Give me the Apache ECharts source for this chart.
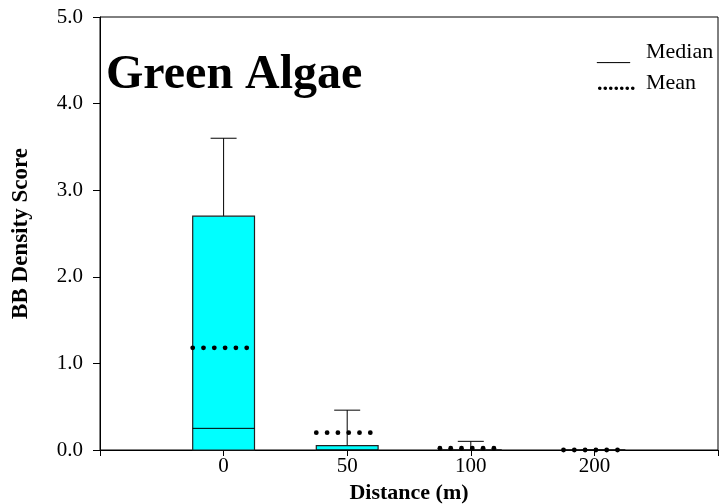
<!DOCTYPE html>
<html><head><meta charset="utf-8">
<script src="https://cdn.jsdelivr.net/npm/echarts@6/dist/echarts.min.js"></script>
<style>html,body{margin:0;padding:0;background:#fff}#c{width:720px;height:504px}</style>
</head><body><div id="c"></div>
<script>
var categories = ['0', '50', '100', '200'];
var q1Values = [0, 0, 0, 0];
var medianValues = [0.25, 0, 0, 0];
var q3Values = [2.7, 0.05, 0, 0];
var upperValues = [3.6, 0.46, 0.1, 0];
var meanValues = [1.18, 0.2, 0.02, 0];
var yTicks = [0, 1, 2, 3, 4, 5];

var xLabels = [''].concat(categories, ['']);
var boxData = categories.map(function (c, i) {
  return [i + 1, q1Values[i], medianValues[i], q3Values[i], upperValues[i], meanValues[i]];
});
var FONT = '"Liberation Serif", "Times New Roman", serif';

function txt(x, y, text, font) {
  return { type: 'text', x: x, y: y, silent: true,
    style: { text: text, font: font, fill: '#000', textAlign: 'left', textVerticalAlign: 'middle', align: 'left', verticalAlign: 'middle' } };
}

var chart = echarts.init(document.getElementById('c'), null, { renderer: 'canvas' });
chart.setOption({
  animation: false,
  backgroundColor: '#fff',
  grid: { left: 100, right: 2, top: 17, bottom: 54, show: true, borderColor: '#000', borderWidth: 1,
    backgroundColor: 'transparent', containLabel: false, outerBoundsMode: 'none' },
  graphic: [
    txt(106, 76, 'Green Algae', 'bold 48px ' + FONT),
    txt(597, 54, '___', '22px ' + FONT),
    txt(646, 52, 'Median', '22px ' + FONT),
    txt(597, 84, '.......', 'bold 22px ' + FONT),
    txt(646, 83, 'Mean', '22px ' + FONT)
  ],
  xAxis: {
    type: 'category', data: xLabels, boundaryGap: false,
    name: 'Distance (m)', nameLocation: 'middle', nameGap: 28,
    nameTextStyle: { fontFamily: FONT, fontSize: 22, fontWeight: 'bold', color: '#000' },
    axisLine: { lineStyle: { color: '#000', width: 1 } },
    axisTick: { show: true, length: 6, alignWithLabel: true, interval: 0, lineStyle: { color: '#000' } },
    axisLabel: { interval: 0, fontFamily: FONT, fontSize: 21, color: '#000', margin: 6 },
    splitLine: { show: false }
  },
  yAxis: {
    type: 'value', min: 0, max: 5, interval: 1,
    name: 'BB Density Score', nameLocation: 'middle', nameGap: 67, nameRotate: 90,
    nameTextStyle: { fontFamily: FONT, fontSize: 23, fontWeight: 'bold', color: '#000' },
    axisLine: { show: true, lineStyle: { color: '#000', width: 1 } },
    axisTick: { show: true, length: 7, lineStyle: { color: '#000' } },
    axisLabel: { fontFamily: FONT, fontSize: 21, color: '#000', margin: 17,
      formatter: function (v) { return yTicks.indexOf(v) >= 0 ? v.toFixed(1) : ''; } },
    splitLine: { show: false }
  },
  series: [{
    type: 'custom',
    data: boxData,
    encode: { x: 0, y: [1, 2, 3, 4, 5] },
    renderItem: function (params, api) {
      var x = api.value(0);
      var band = api.size([1, 0])[0];
      var w = band * 0.5;
      var pQ1 = api.coord([x, api.value(1)]);
      var pMed = api.coord([x, api.value(2)]);
      var pQ3 = api.coord([x, api.value(3)]);
      var pUp = api.coord([x, api.value(4)]);
      var pMean = api.coord([x, api.value(5)]);
      var cx = pQ1[0];
      var left = cx - w / 2;
      var children = [];
      children.push({ type: 'line', shape: { x1: cx, y1: pQ3[1], x2: cx, y2: pUp[1] }, style: { stroke: '#000', lineWidth: 1 } });
      children.push({ type: 'line', shape: { x1: cx - 13, y1: pUp[1], x2: cx + 13, y2: pUp[1] }, style: { stroke: '#000', lineWidth: 1 } });
      children.push({ type: 'rect', shape: { x: left, y: pQ3[1], width: w, height: pQ1[1] - pQ3[1] }, style: { fill: '#00FFFF', stroke: '#222', lineWidth: 1.2 } });
      children.push({ type: 'line', shape: { x1: left, y1: pMed[1], x2: left + w, y2: pMed[1] }, style: { stroke: '#000', lineWidth: 1 } });
      for (var k = 0; k < 6; k++) {
        children.push({ type: 'circle', shape: { cx: left + k * 10.8, cy: pMean[1], r: 2.4 }, style: { fill: '#000' } });
      }
      return { type: 'group', children: children };
    }
  }]
});
</script>
</body></html>
